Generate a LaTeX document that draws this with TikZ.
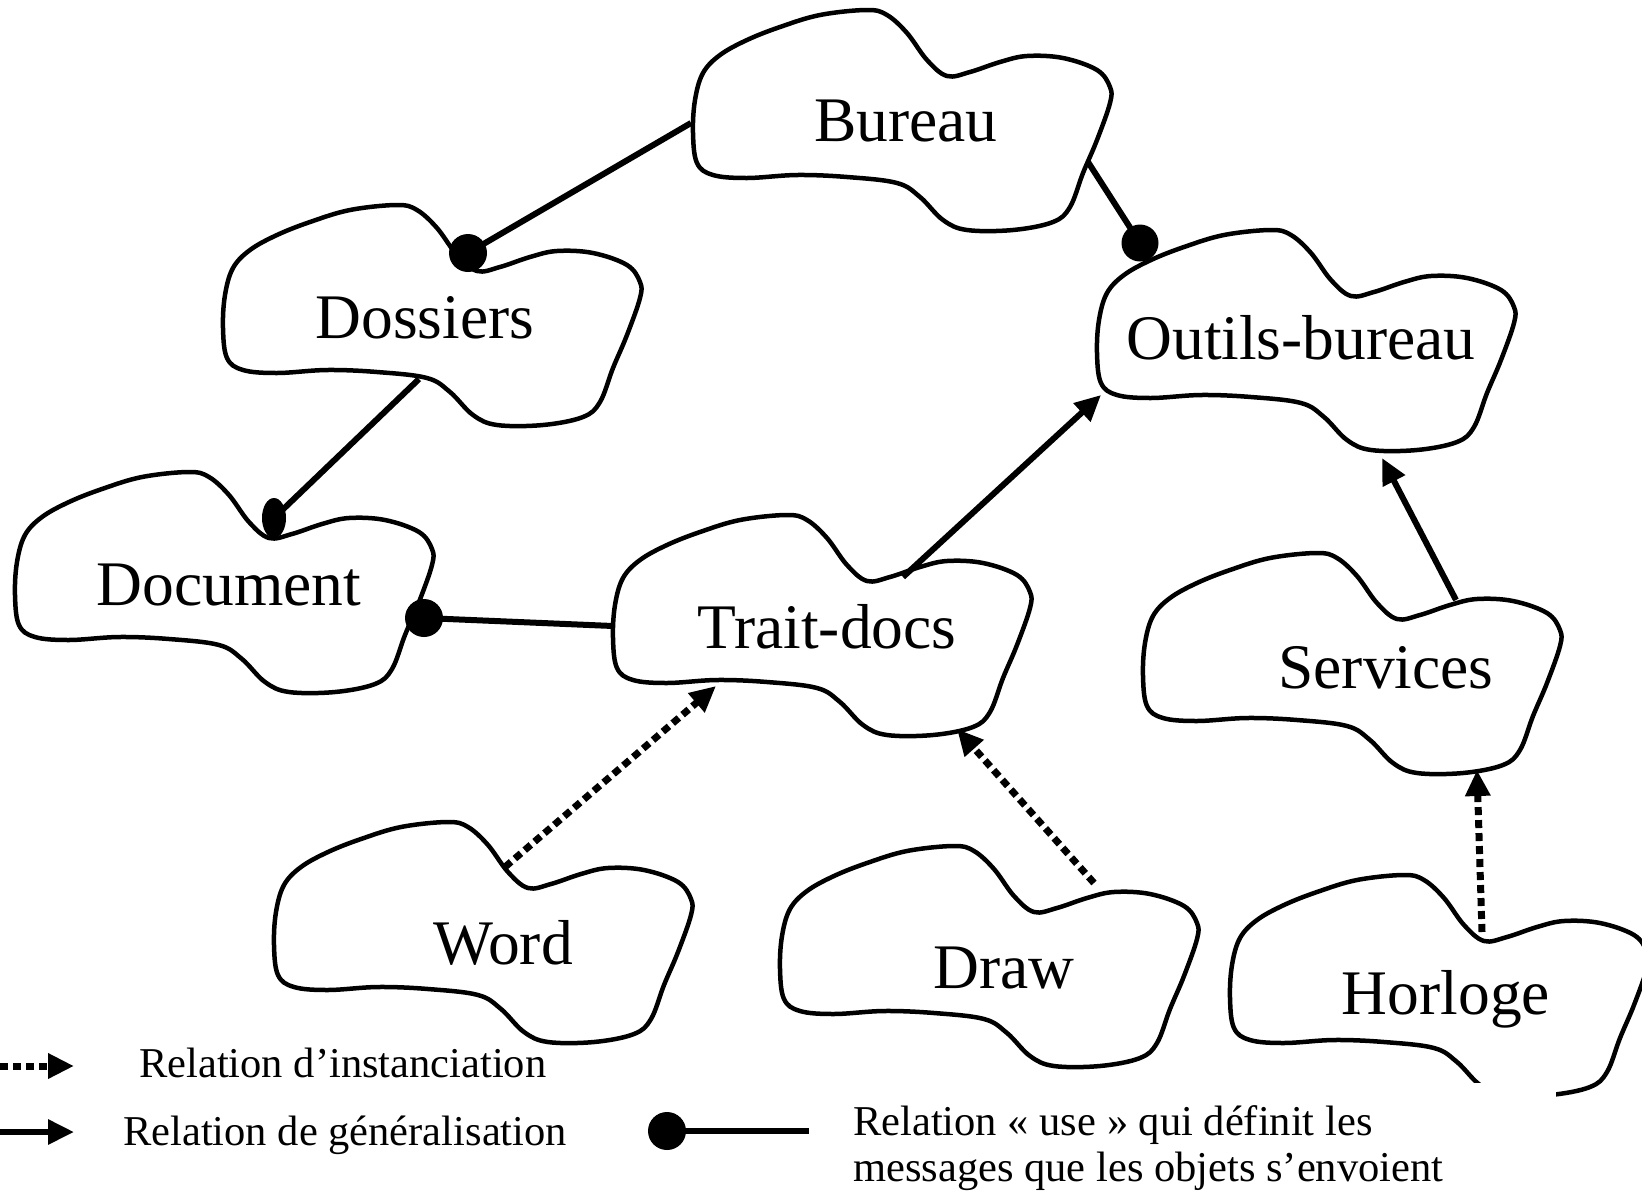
\documentclass[tikz,border=0pt]{standalone}
\usepackage{fontspec}
\setmainfont{Liberation Serif}
\usetikzlibrary{arrows.meta}

\tikzset{
  blob/.style={line width=4.5pt, line join=round},
  usel/.style={line width=6pt},
  usedot/.style={fill=black},
  gen/.style={line width=6pt, -{Triangle[length=26pt,width=24pt]}},
  inst/.style={line width=7pt, dash pattern=on 8pt off 5pt, -{Triangle[length=26pt,width=24pt]}},
  lbl/.style={font=\fontsize{63.5}{70}\selectfont, anchor=base, inner sep=0pt},
  leg/.style={font=\fontsize{42.5}{50}\selectfont, anchor=base west, inner sep=0pt},
}

% irregular "cloud" outline, placed by its top-left corner
\newcommand\blobat[2]{%
  \draw[blob, shift={(#1,#2)}] plot[smooth cycle, tension=0.6] coordinates {
    (0,123) (2,90) (10,63) (27,45) (54,30) (87,17) (127,5) (174,0) (194,5)
    (214,23) (234,50) (254,66) (277,62) (307,52) (334,46) (370,48) (404,60)
    (417,77) (417,93) (404,130) (390,163) (377,197) (360,212) (320,220)
    (274,220) (250,210) (227,187) (204,173) (154,167) (104,165) (54,168)
    (20,165) (4,153)};}

\begin{document}
\begin{tikzpicture}[x=1pt, y=-1pt]
\useasboundingbox (0,0) rectangle (1642,1195);

% class clouds
\blobat{693}{10}
\blobat{223}{205}
\blobat{15}{472}
\blobat{613}{515}
\blobat{1097}{230}
\blobat{1143}{553}
\blobat{274}{822}
\blobat{780}{846}
\blobat{1230}{875}

% the legend block hides the lower part of the last cloud
\fill[white] (845,1083) rectangle (1556,1200);

% labels
\node[lbl] (bureau)   at (906,141)  {Bureau};
\node[lbl] (dossiers) at (425,338)  {Dossiers};
\node[lbl] (outils)   at (1301,359) {Outils-bureau};
\node[lbl] (document) at (229,605)  {Document};
\node[lbl] (trait)    at (827,648)  {Trait-docs};
\node[lbl] (services) at (1386,688) {Services};
\node[lbl] (word)     at (503,964)  {Word};
\node[lbl] (draw)     at (1004,988) {Draw};
\node[lbl] (horloge)  at (1446,1014){Horloge};

% attachment points on the outlines
\coordinate (bureau-w)   at (691,123);
\coordinate (bureau-se)  at (1088,162);
\coordinate (dossiers-n) at (468,253);
\coordinate (dossiers-s) at (419,379);
\coordinate (document-n) at (274,518);
\coordinate (document-e) at (424,618);
\coordinate (trait-w)    at (613,626);
\coordinate (trait-n)    at (903,577);
\coordinate (trait-sw)   at (716,686);
\coordinate (trait-se)   at (957,729);
\coordinate (outils-n)   at (1140,243);
\coordinate (outils-sw)  at (1101,395);
\coordinate (outils-s)   at (1382,458);
\coordinate (services-n) at (1456,600);
\coordinate (services-s) at (1477,770);
\coordinate (word-n)     at (505,867);
\coordinate (draw-n)     at (1094,883);
\coordinate (horloge-n)  at (1482,932);

% "use" relations
\draw[usel] (bureau-w) -- (dossiers-n);
\fill[usedot] (dossiers-n) circle (19);
\draw[usel] (bureau-se) -- (outils-n);
\fill[usedot] (outils-n) circle (18.5);
\draw[usel] (dossiers-s) -- (document-n);
\fill[usedot] (document-n) ellipse (12 and 20);
\draw[usel] (trait-w) -- (document-e);
\fill[usedot] (document-e) circle (19);

% generalisation
\draw[gen] (trait-n) -- (outils-sw);
\draw[gen] (services-n) -- (outils-s);

% instanciation
\draw[inst] (word-n) -- (trait-sw);
\draw[inst] (draw-n) -- (trait-se);
\draw[inst] (horloge-n) -- (services-s);

% legend
\coordinate (li-a) at (0,1066);
\coordinate (li-b) at (74,1066);
\draw[inst] (li-a) -- (li-b);
\coordinate (lg-a) at (0,1132);
\coordinate (lg-b) at (74,1132);
\draw[gen] (lg-a) -- (lg-b);
\coordinate (lu-a) at (667,1131);
\coordinate (lu-b) at (809,1131);
\draw[usel] (lu-a) -- (lu-b);
\fill[usedot] (lu-a) circle (19);

\node[leg] (leg-inst) at (139,1077) {Relation d’instanciation};
\node[leg] (leg-gen)  at (123,1145) {Relation de généralisation};
\node[leg] (leg-use1) at (853,1135) {Relation « use » qui définit les};
\node[leg] (leg-use2) at (853,1181) {messages que les objets s’envoient};
\end{tikzpicture}
\end{document}
